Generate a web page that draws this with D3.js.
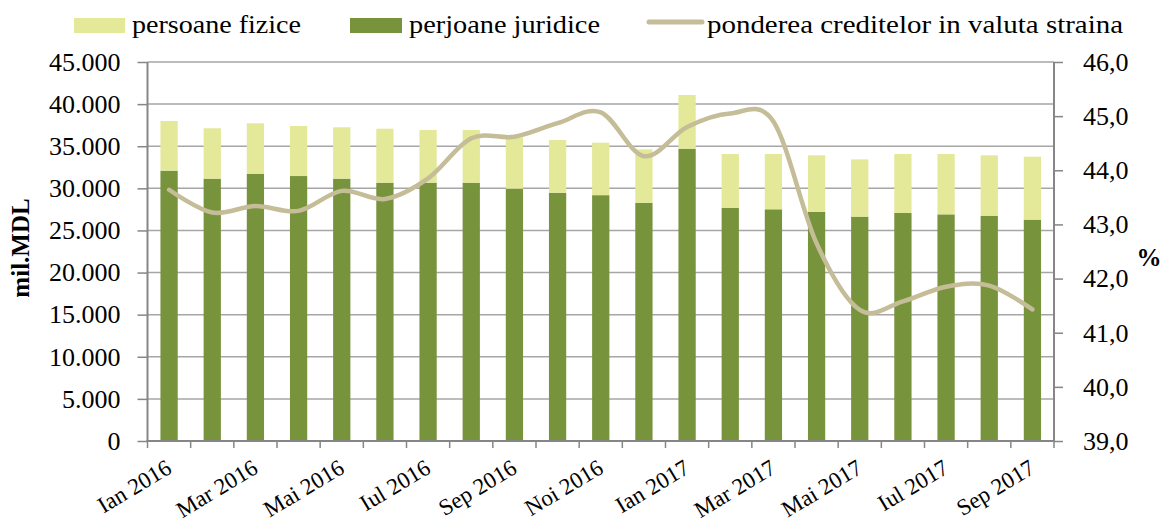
<!DOCTYPE html>
<html>
<head>
<meta charset="utf-8">
<script src="https://cdn.jsdelivr.net/npm/d3@7"></script>
<style>
  html, body { margin: 0; padding: 0; background: #ffffff; }
  svg { display: block; }
  text { font-family: "Liberation Serif", "DejaVu Serif", serif; fill: #000; }
</style>
</head>
<body>
<svg id="chart" width="1163" height="524"></svg>
<script>
// ---------------- DATA ----------------
const months = ["Ian 2016","Feb 2016","Mar 2016","Apr 2016","Mai 2016","Iun 2016","Iul 2016","Aug 2016","Sep 2016","Oct 2016","Noi 2016","Dec 2016",
                "Ian 2017","Feb 2017","Mar 2017","Apr 2017","Mai 2017","Iun 2017","Iul 2017","Aug 2017","Sep 2017"];
const juridice = [32100, 31150, 31740, 31460, 31150, 30670, 30670, 30670, 29960, 29480, 29190, 28290,
                  34710, 27700, 27510, 27190, 26640, 27070, 26910, 26750, 26280];
const fizice   = [5900, 5980, 5980, 5940, 6100, 6410, 6260, 6260, 6100, 6260, 6230, 6340,
                  6370, 6380, 6570, 6730, 6800, 7010, 7170, 7170, 7480];
const ponderea = [43.64, 43.22, 43.34, 43.25, 43.62, 43.47, 43.85, 44.59, 44.62, 44.87, 45.07, 44.26,
                  44.80, 45.05, 44.90, 42.65, 41.42, 41.58, 41.85, 41.87, 41.43];
const leftTicks  = [0, 5000, 10000, 15000, 20000, 25000, 30000, 35000, 40000, 45000];
const rightTicks = [39, 40, 41, 42, 43, 44, 45, 46];
const legendLabels = ["persoane fizice", "perjoane juridice", "ponderea creditelor in valuta straina"];
const leftTitle = "mil.MDL";
const rightTitle = "%";

// ---------------- LAYOUT ----------------
const C = { dark: "#77933C", light: "#E3E999", line: "#C4BD97", grid: "#A6A6A6", axis: "#868686" };
const plot = { left: 147.5, right: 1054, top: 62, bottom: 441 };

const svg = d3.select("#chart");
const locale = d3.formatLocale({ decimal: ",", thousands: ".", grouping: [3], currency: ["", ""] });
const fmtL = locale.format(",");
const fmtR = locale.format(",.1f");

const x = d3.scaleBand().domain(months).range([plot.left, plot.right]).paddingInner(0.6).paddingOuter(0.3);
const yL = d3.scaleLinear().domain([0, 45000]).range([plot.bottom, plot.top]);
const yR = d3.scaleLinear().domain([39, 46]).range([plot.bottom, plot.top]);

// gridlines
svg.append("g").selectAll("line").data(leftTicks.filter(d => d > 0)).join("line")
  .attr("x1", plot.left).attr("x2", plot.right)
  .attr("y1", d => yL(d)).attr("y2", d => yL(d))
  .attr("stroke", C.grid).attr("stroke-width", 1.5);

// bars
const rows = months.map((m, i) => ({ m, j: juridice[i], f: fizice[i], p: ponderea[i] }));
const gb = svg.append("g");
gb.selectAll("rect.j").data(rows).join("rect").attr("class", "j")
  .attr("x", d => x(d.m)).attr("width", x.bandwidth())
  .attr("y", d => yL(d.j)).attr("height", d => yL(0) - yL(d.j))
  .attr("fill", C.dark);
gb.selectAll("rect.f").data(rows).join("rect").attr("class", "f")
  .attr("x", d => x(d.m)).attr("width", x.bandwidth())
  .attr("y", d => yL(d.j + d.f)).attr("height", d => yL(d.j) - yL(d.j + d.f))
  .attr("fill", C.light);

// left axis
const axL = svg.append("g").attr("transform", `translate(${plot.left},0)`)
  .call(d3.axisLeft(yL).tickValues(leftTicks).tickFormat(fmtL).tickSize(10).tickPadding(17));
axL.select(".domain").attr("stroke", C.axis).attr("stroke-width", 2).attr("d", `M-0,${plot.top}V${plot.bottom}`);
axL.selectAll(".tick line").attr("stroke", C.axis).attr("stroke-width", 1.5);
axL.selectAll(".tick text").attr("font-size", 26).attr("fill", "#000");

// right axis
const axR = svg.append("g").attr("transform", `translate(${plot.right},0)`)
  .call(d3.axisRight(yR).tickValues(rightTicks).tickFormat(fmtR).tickSize(9).tickPadding(20));
axR.select(".domain").attr("stroke", C.axis).attr("stroke-width", 2).attr("d", `M0,${plot.top}V${plot.bottom}`);
axR.selectAll(".tick line").attr("stroke", C.axis).attr("stroke-width", 1.5);
axR.selectAll(".tick text").attr("font-size", 26).attr("fill", "#000");

// x axis
const gx = svg.append("g");
gx.append("line").attr("x1", plot.left - 1).attr("x2", plot.right + 1)
  .attr("y1", plot.bottom).attr("y2", plot.bottom)
  .attr("stroke", C.axis).attr("stroke-width", 2);
const boundaries = months.map(m => x(m) + x.bandwidth() / 2 - x.step() / 2).concat([plot.right]);
gx.selectAll("line.t").data(boundaries).join("line").attr("class", "t")
  .attr("x1", d => d).attr("x2", d => d)
  .attr("y1", plot.bottom).attr("y2", plot.bottom + 7)
  .attr("stroke", C.axis).attr("stroke-width", 1.5);
gx.selectAll("text").data(months.filter((m, i) => i % 2 === 0)).join("text")
  .attr("transform", d => `translate(${x(d) + x.bandwidth() / 2 + 4},${plot.bottom + 31}) rotate(-31)`)
  .attr("text-anchor", "end").attr("font-size", 23)
  .text(d => d);

// line
const line = d3.line()
  .x(d => x(d.m) + x.bandwidth() / 2)
  .y(d => yR(d.p))
  .curve(d3.curveCardinal.tension(0));
svg.append("path").datum(rows).attr("d", line)
  .attr("fill", "none").attr("stroke", C.line).attr("stroke-width", 4.5)
  .attr("stroke-linecap", "round").attr("stroke-linejoin", "round");

// axis titles
svg.append("text").attr("transform", `translate(29,248) rotate(-90)`)
  .attr("text-anchor", "middle").attr("font-weight", "bold").attr("font-size", 25)
  .text(leftTitle);
svg.append("text").attr("x", 1149).attr("y", 266)
  .attr("text-anchor", "middle").attr("font-weight", "bold").attr("font-size", 25)
  .text(rightTitle);

// legend
const lg = svg.append("g");
lg.append("rect").attr("x", 74).attr("y", 18).attr("width", 51).attr("height", 15).attr("fill", C.light);
lg.append("text").attr("x", 132).attr("y", 33).attr("font-size", 25)
  .attr("textLength", 169).attr("lengthAdjust", "spacingAndGlyphs").text(legendLabels[0]);
lg.append("rect").attr("x", 350).attr("y", 18).attr("width", 52).attr("height", 15).attr("fill", C.dark);
lg.append("text").attr("x", 409).attr("y", 33).attr("font-size", 25)
  .attr("textLength", 191).attr("lengthAdjust", "spacingAndGlyphs").text(legendLabels[1]);
lg.append("line").attr("x1", 649).attr("x2", 702).attr("y1", 22).attr("y2", 22)
  .attr("stroke", C.line).attr("stroke-width", 5).attr("stroke-linecap", "round");
lg.append("text").attr("x", 707).attr("y", 33).attr("font-size", 25)
  .attr("textLength", 416).attr("lengthAdjust", "spacingAndGlyphs").text(legendLabels[2]);
</script>
</body>
</html>
